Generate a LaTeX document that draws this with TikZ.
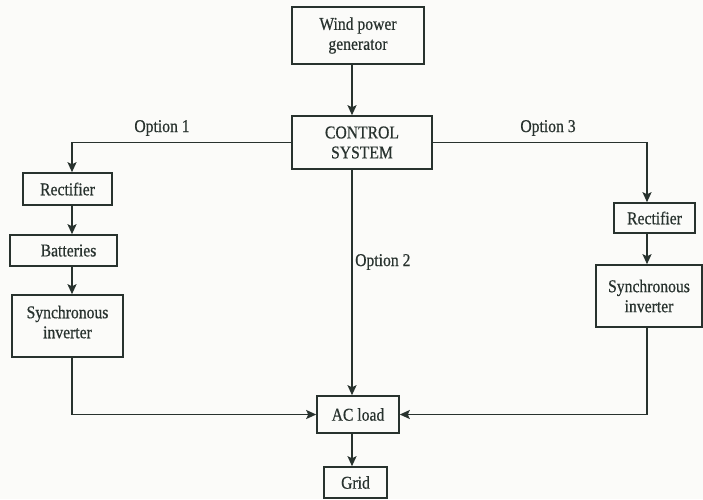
\documentclass[tikz,border=0pt]{standalone}
\usepackage{fontspec}
\setmainfont{Liberation Serif}[FakeStretch=0.87,FakeBold=0.6]
\usetikzlibrary{arrows.meta}
\definecolor{ink}{RGB}{40,50,46}
\definecolor{paper}{RGB}{251,251,249}
\begin{document}
\begin{tikzpicture}[x=1pt,y=-1pt,
  box/.style={draw=ink,line width=1.6pt,rectangle,inner sep=0pt,align=center,
    text=ink,font=\fontsize{18}{20}\selectfont},
  wire/.style={draw=ink,line width=1.6pt},
  arr/.style={wire,-{Stealth[length=10pt,width=9pt,inset=2pt]}},
  lbl/.style={text=ink,font=\fontsize{18}{20}\selectfont,inner sep=0pt}]
  \fill[paper] (0,0) rectangle (703,499);
  \useasboundingbox (0,0) rectangle (703,499);

  % column positions of the vertical connectors
  \coordinate (spine) at (352,0);
  \coordinate (lcol) at (72,0);
  \coordinate (rcol) at (647,0);

  % blocks
  \node[box,minimum width=132pt,minimum height=57pt] (wind) at (358,35.5) {Wind power\\generator};
  \node[box,minimum width=140pt,minimum height=53pt] (ctrl) at (362,142.5) {CONTROL\\SYSTEM};
  \node[box,minimum width=89pt,minimum height=32pt] (rect1) at (67.5,189) {Rectifier};
  \node[box,minimum width=107pt,minimum height=31pt] (batt) at (63.5,250.5) {\hspace*{10pt}Batteries};
  \node[box,minimum width=111pt,minimum height=62pt] (sinv1) at (67.5,326) {Synchronous\\inverter\\[-12pt]};
  \node[box,minimum width=81pt,minimum height=30pt] (rect2) at (654.5,218) {Rectifier};
  \node[box,minimum width=106pt,minimum height=62pt] (sinv2) at (649,296) {Synchronous\\inverter};
  \node[box,minimum width=82pt,minimum height=37pt] (acload) at (358,414.5) {AC load};
  \node[box,minimum width=63pt,minimum height=31pt] (grid) at (355.5,482.5) {Grid};

  % generator to controller
  \draw[arr] (wind.south -| spine) -- (ctrl.north -| spine);

  % option 1 branch
  \draw[arr] (ctrl.west) -| (rect1.north -| lcol);
  \draw[arr] (rect1.south -| lcol) -- (batt.north -| lcol);
  \draw[arr] (batt.south -| lcol) -- (sinv1.north -| lcol);
  \draw[arr] (sinv1.south -| lcol) |- (acload.west);

  % option 2 branch
  \draw[arr] (ctrl.south -| spine) -- (acload.north -| spine);

  % option 3 branch
  \draw[arr] (ctrl.east) -| (rect2.north -| rcol);
  \draw[arr] (rect2.south -| rcol) -- (sinv2.north -| rcol);
  \draw[arr] (sinv2.south -| rcol) |- (acload.east);

  % load to grid
  \draw[arr] (acload.south -| spine) -- (grid.north -| spine);

  % branch labels
  \node[lbl] (opt1) at (162,128) {Option 1};
  \node[lbl,anchor=west] (opt2) at (355,262) {Option 2};
  \node[lbl] (opt3) at (548,128) {Option 3};
\end{tikzpicture}
\end{document}
